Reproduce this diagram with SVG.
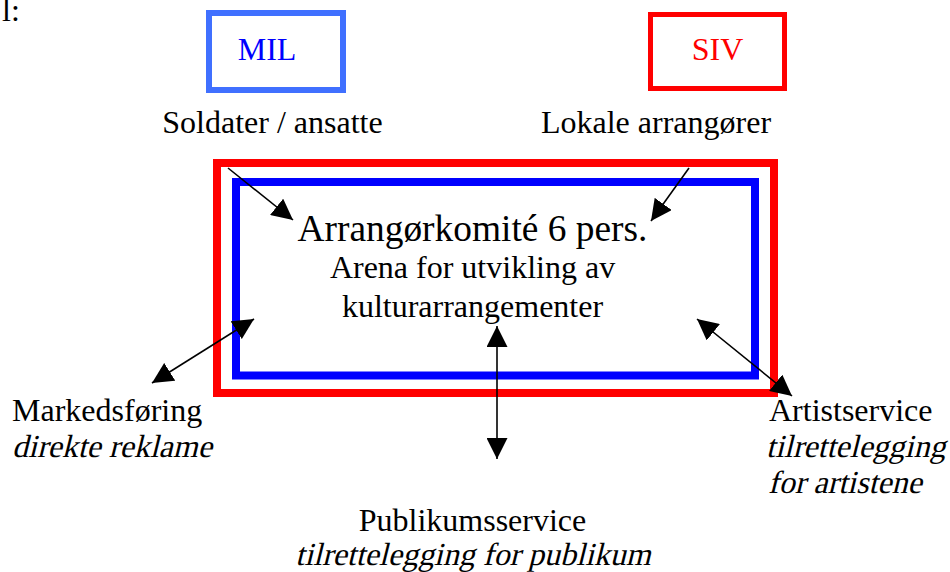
<svg xmlns="http://www.w3.org/2000/svg" width="950" height="572" viewBox="0 0 950 572">
<style>
text{font-family:"Liberation Serif","Times New Roman",serif;fill:#000}
.t32{font-size:32px}
.mid{text-anchor:middle}
.con{stroke:#000;stroke-width:1.6;fill:none}
</style>
<defs>
<marker id="ah" markerUnits="userSpaceOnUse" markerWidth="21" markerHeight="21" refX="20" refY="10" orient="auto-start-reverse" viewBox="0 0 20 20">
<path d="M0,0 L20,10 L0,20 z" fill="#000"/>
</marker>
</defs>
<rect width="950" height="572" fill="#fff"/>
<text class="t32" x="2" y="21">l:</text>
<g id="mil">
<rect x="209" y="13" width="134" height="77" fill="none" stroke="#4070FF" stroke-width="6"/>
<text class="t32 mid" x="267" y="60" style="fill:#0000FF">MIL</text>
</g>
<g id="siv">
<rect x="650.5" y="14.5" width="134" height="74" fill="none" stroke="#FF0000" stroke-width="5"/>
<text class="t32 mid" x="717.5" y="60" style="fill:#FF0000">SIV</text>
</g>
<g id="soldater">
<text class="t32 mid" x="272.5" y="133">Soldater / ansatte</text>
</g>
<g id="lokale">
<text class="t32 mid" x="656" y="133">Lokale arrangører</text>
</g>
<g id="arena">
<rect x="217" y="163" width="557" height="230" fill="none" stroke="#FF0000" stroke-width="8"/>
<rect x="236" y="182" width="519" height="193.5" fill="none" stroke="#0000FF" stroke-width="8"/>
<text class="mid" x="472.5" y="241" style="font-size:37.4px">Arrangørkomité 6 pers.</text>
<text class="t32 mid" x="472.5" y="278">Arena for utvikling av</text>
<text class="t32 mid" x="472.5" y="317">kulturarrangementer</text>
</g>
<g id="markedsforing">
<text class="t32" x="12" y="421">Markedsføring</text>
<text class="t32" transform="translate(12,457) skewX(-14)" x="0" y="0">direkte reklame</text>
</g>
<g id="artistservice">
<text class="t32" x="769" y="421">Artistservice</text>
<text class="t32" transform="translate(766,457) skewX(-14)" x="0" y="0">tilrettelegging</text>
<text class="t32" transform="translate(768,493) skewX(-14)" x="0" y="0">for artistene</text>
</g>
<g id="publikumsservice">
<text class="t32 mid" x="472.5" y="531">Publikumsservice</text>
<text class="t32 mid" transform="translate(473,565) skewX(-14)" x="0" y="0">tilrettelegging for publikum</text>
</g>
<g id="connectors">
<line class="con" x1="228" y1="168" x2="293" y2="220" marker-end="url(#ah)"/>
<line class="con" x1="689" y1="168" x2="651" y2="221" marker-end="url(#ah)"/>
<line class="con" x1="152" y1="383" x2="254" y2="319" marker-start="url(#ah)" marker-end="url(#ah)"/>
<line class="con" x1="697" y1="319" x2="792" y2="396" marker-start="url(#ah)" marker-end="url(#ah)"/>
<line class="con" x1="497" y1="326" x2="497" y2="459" marker-start="url(#ah)" marker-end="url(#ah)"/>
</g>
</svg>
